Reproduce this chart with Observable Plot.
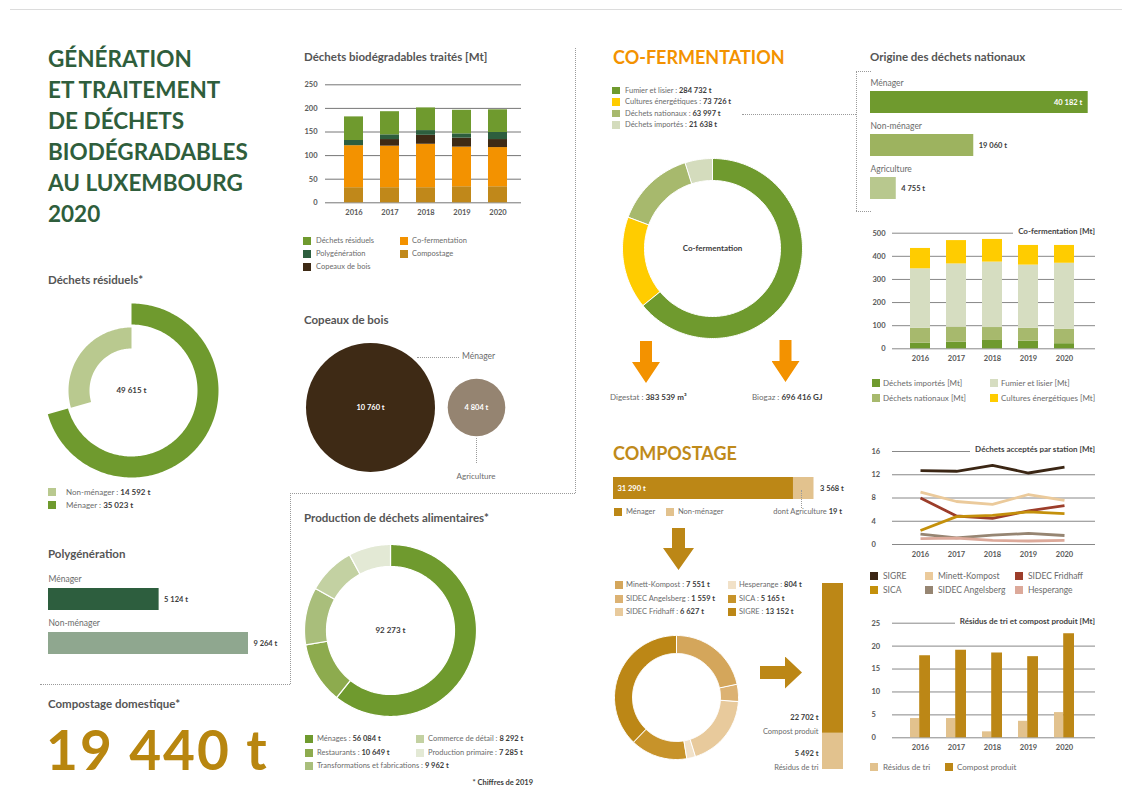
<!DOCTYPE html>
<html lang="fr">
<head>
<meta charset="utf-8">
<script src="https://cdn.jsdelivr.net/npm/d3@7"></script>
<script src="https://cdn.jsdelivr.net/npm/@observablehq/plot@0.6"></script>
<style>
html,body{margin:0;padding:0;background:#fff;}
#page{position:relative;width:1130px;height:800px;overflow:hidden;background:#fff;font-family:Lato,"Open Sans",sans-serif;}
#page svg{position:absolute;overflow:visible;}
.t{position:absolute;white-space:nowrap;}
.t b{color:#3c3c3c;font-weight:700;}
.dh{position:absolute;height:0;border-top:1px dotted #9a9a9a;}
.dv{position:absolute;width:0;border-left:1px dotted #9a9a9a;}
.sw{position:absolute;}
.ar{position:absolute;}
</style>
</head>
<body>
<div id="page"></div>
<script>
// ======================= DATA =======================
const years = ["2016", "2017", "2018", "2019", "2020"];

// Déchets biodégradables traités [Mt] (stack order bottom -> top)
const bioCategories = ["Compostage", "Co-fermentation", "Copeaux de bois", "Polygénération", "Déchets résiduels"];
const bioCompostage = [32, 32, 32, 34, 34];
const bioCoFermentation = [89, 88, 92, 84, 83];
const bioCopeaux = [0, 14, 19, 19, 17];
const bioPolygeneration = [11, 10, 10, 9, 15];
const bioResiduels = [50, 49, 48, 50, 48];
const bioTicks = [0, 50, 100, 150, 200, 250];

// Déchets résiduels*
const residuelsLabels = ["Ménager", "Non-ménager"];
const residuelsValues = [35023, 14592];
const residuelsTotal = 49615;

// Polygénération
const polyLabels = ["Ménager", "Non-ménager"];
const polyValues = [5124, 9264];

// Compostage domestique*
const compostageDomestique = 19440;

// Copeaux de bois
const copeauxLabels = ["Ménager", "Agriculture"];
const copeauxValues = [10760, 4804];

// Production de déchets alimentaires* (chiffres de 2019)
const alimLabels = ["Ménages", "Restaurants", "Transformations et fabrications", "Commerce de détail", "Production primaire"];
const alimValues = [56084, 10649, 9962, 8292, 7285];
const alimTotal = 92273;

// Co-fermentation
const cofermLabels = ["Fumier et lisier", "Cultures énergétiques", "Déchets nationaux", "Déchets importés"];
const cofermValues = [284732, 73726, 63997, 21638];
const digestat = "383 539 m³";
const biogaz = "696 416 GJ";

// Origine des déchets nationaux
const origineLabels = ["Ménager", "Non-ménager", "Agriculture"];
const origineValues = [40182, 19060, 4755];

// Co-fermentation [Mt] (stack order bottom -> top)
const cofSeries = ["Déchets importés [Mt]", "Déchets nationaux [Mt]", "Fumier et lisier [Mt]", "Cultures énergétiques [Mt]"];
const cofImportes = [24, 29, 36, 33, 22];
const cofNationaux = [65, 65, 56, 56, 63];
const cofFumier = [257, 273, 283, 273, 285];
const cofCultures = [88, 101, 98, 85, 77];
const cofTicks = [0, 100, 200, 300, 400, 500];

// Compostage
const compLabels = ["Ménager", "Non-ménager"];
const compValues = [31290, 3568];
const compAgriculture = 19;
const stationLabels = ["Minett-Kompost", "SIDEC Angelsberg", "SIDEC Fridhaff", "Hesperange", "SICA", "SIGRE"];
const stationValues = [7551, 1559, 6627, 804, 5165, 13152];
const produitLabels = ["Résidus de tri", "Compost produit"];
const produitValues = [5492, 22702];

// Déchets acceptés par station [Mt]
const lineStations = ["SIGRE", "Minett-Kompost", "SIDEC Fridhaff", "SICA", "SIDEC Angelsberg", "Hesperange"];
const lineSIGRE = [12.7, 12.6, 13.6, 12.3, 13.3];
const lineMinett = [9.0, 7.4, 6.9, 8.6, 7.6];
const lineFridhaff = [8.0, 4.9, 4.5, 5.8, 6.7];
const lineSICA = [2.4, 4.8, 5.0, 5.6, 5.3];
const lineAngelsberg = [1.8, 1.15, 1.6, 1.9, 1.55];
const lineHesperange = [1.0, 1.1, 0.7, 0.6, 0.7];
const lineTicks = [0, 4, 8, 12, 16];

// Résidus de tri et compost produit [Mt]
const resTri = [4.2, 4.2, 1.3, 3.6, 5.5];
const resCompost = [17.9, 19.1, 18.5, 17.7, 22.7];
const resTicks = [0, 5, 10, 15, 20, 25];

// ======================= STYLE =======================
const FONT = "Lato, 'Open Sans', sans-serif";
const GREEN = "#6f9a2e", DKGREEN = "#2d5e3e", BROWN = "#3e2a15", ORANGE = "#f39200",
      GOLD = "#bc8716", GOLD_L = "#e2c28e", TAUPE = "#958471", YELLOW = "#ffcc00";
const bioColors = ["#c0881a", ORANGE, BROWN, DKGREEN, GREEN];
const alimColors = [GREEN, "#8dab4e", "#a9be7b", "#c3d1a2", "#e3e9d5"];
const cofermColors = [GREEN, YELLOW, "#a7b96d", "#d4dcbd"];
const cofSeriesColors = [GREEN, "#a7b96d", "#d6ddc1", YELLOW];
const origineColors = [GREEN, "#9db35f", "#b8c88e"];
const polyColors = [DKGREEN, "#8fa78f"];
const stationColors = ["#d4a65b", "#dcb273", "#e8ca9c", "#f1e1c8", "#c7932a", GOLD];
const lineColors = ["#3b2614", "#ebca9b", "#9c3d2a", "#c4900b", "#968572", "#dca99a"];
const tick = {fontSize: 7.5, fontWeight: "bold", fill: "#595959"};
const fmt = v => d3.format(",")(v).replace(/,/g, " ");

// ======================= HELPERS =======================
const page = document.getElementById("page");
function txt(x, y, html, o = {}) {
  const s = o.size || 8, lh = o.lh || s * 1.25, lines = o.lines || 1;
  const d = document.createElement("div");
  d.className = "t";
  d.style.fontSize = s + "px";
  d.style.lineHeight = lh + "px";
  d.style.color = o.color || "#6b6b6b";
  d.style.fontWeight = o.weight || 400;
  if (o.ls) d.style.letterSpacing = o.ls;
  if (o.bg) { d.style.background = o.bg; d.style.paddingLeft = "5px"; }
  d.style.top = (y - lines * lh / 2) + "px";
  if (o.anchor === "end") d.style.right = (1130 - x) + "px";
  else if (o.anchor === "middle") { d.style.left = x + "px"; d.style.transform = "translateX(-50%)"; }
  else d.style.left = x + "px";
  d.innerHTML = html;
  page.appendChild(d);
  return d;
}
function swatch(x, y, color, s = 8) {
  const d = document.createElement("div");
  d.className = "sw";
  d.style.cssText += `left:${x}px;top:${y - s / 2}px;width:${s}px;height:${s}px;background:${color};`;
  page.appendChild(d);
}
function item(x, tx, y, color, html, o = {}) {
  swatch(x, y, color, o.sw || 8);
  txt(tx, y, html, {size: o.size || 7.5, color: o.color});
}
function dotH(x1, x2, y) {
  const d = document.createElement("div"); d.className = "dh";
  d.style.cssText += `left:${x1}px;top:${y}px;width:${x2 - x1}px;`; page.appendChild(d);
}
function dotV(x, y1, y2) {
  const d = document.createElement("div"); d.className = "dv";
  d.style.cssText += `left:${x}px;top:${y1}px;height:${y2 - y1}px;`; page.appendChild(d);
}
function arrowDown(cx, top, bottom, headW, shaftW, headH, color) {
  const d = document.createElement("div"); d.className = "ar";
  const w = headW, h = bottom - top, a = (w - shaftW) / 2, b = (w + shaftW) / 2, hs = h - headH;
  d.style.cssText += `left:${cx - w / 2}px;top:${top}px;width:${w}px;height:${h}px;background:${color};` +
    `clip-path:polygon(${a}px 0,${b}px 0,${b}px ${hs}px,${w}px ${hs}px,${w / 2}px ${h}px,0 ${hs}px,${a}px ${hs}px);`;
  page.appendChild(d);
}
function arrowRight(left, right, cy, headH, shaftH, headL, color) {
  const d = document.createElement("div"); d.className = "ar";
  const w = right - left, h = headH, a = (h - shaftH) / 2, b = (h + shaftH) / 2, ws = w - headL;
  d.style.cssText += `left:${left}px;top:${cy - h / 2}px;width:${w}px;height:${h}px;background:${color};` +
    `clip-path:polygon(0 ${a}px,${ws}px ${a}px,${ws}px 0,${w}px ${h / 2}px,${ws}px ${h}px,${ws}px ${b}px,0 ${b}px);`;
  page.appendChild(d);
}
function plotAt(x, y, opts) {
  const svg = Plot.plot({
    ...opts,
    style: {fontFamily: FONT, fontSize: "8px", background: "transparent", color: "#595959", overflow: "visible"}
  });
  svg.style.left = x + "px";
  svg.style.top = y + "px";
  page.appendChild(svg);
  return svg;
}
function arcPoints(a0, a1, r0, r1) {
  const n = Math.max(4, Math.ceil(Math.abs(a1 - a0) / (Math.PI / 150)));
  const pts = [];
  for (let i = 0; i <= n; i++) { const a = a0 + (a1 - a0) * i / n; pts.push({x: r1 * Math.sin(a), y: r1 * Math.cos(a)}); }
  for (let i = n; i >= 0; i--) { const a = a0 + (a1 - a0) * i / n; pts.push({x: r0 * Math.sin(a), y: r0 * Math.cos(a)}); }
  return pts;
}
// donut drawn through Plot scales: each slice polygon from its share of the values
function donut(cx, cy, values, colors, r0, r1, centerText, o = {}) {
  const total = d3.sum(values);
  const ends = d3.cumsum(values).map(v => v / total * 2 * Math.PI);
  const marks = values.map((v, i) => Plot.line(arcPoints(i ? ends[i - 1] : 0, ends[i], r0, r1),
    {x: "x", y: "y", fill: colors[i], stroke: o.stroke || "none", strokeWidth: o.strokeWidth || 0, curve: "linear-closed"}));
  if (centerText) marks.push(Plot.text([centerText], {frameAnchor: "middle", text: d => d, fontWeight: "bold", fontSize: 8, fill: "#3c3c3c"}));
  const P = r1 + 4;
  plotAt(cx - P, cy - P, {width: 2 * P, height: 2 * P, margin: 0,
    x: {domain: [-P, P], axis: null}, y: {domain: [-P, P], axis: null}, marks});
}

// ======================= PAGE FRAME =======================
{ const d = document.createElement("div"); d.style.cssText = "position:absolute;left:10px;top:9px;width:1112px;height:0;border-top:1px solid #dcdcdc;"; page.appendChild(d); }
dotV(575, 48, 493); dotH(290, 575, 493); dotV(290, 493, 684); dotH(40, 290, 684);

// ======================= MAIN TITLE =======================
txt(48, 135.5, "GÉNÉRATION<br>ET TRAITEMENT<br>DE DÉCHETS<br>BIODÉGRADABLES<br>AU LUXEMBOURG<br>2020",
  {size: 22.5, lh: 31, lines: 6, weight: 700, color: "#2f5e3c"});

// ======================= DÉCHETS BIODÉGRADABLES TRAITÉS =======================
txt(304, 57.5, "Déchets biodégradables traités [Mt]", {size: 11.5, weight: 700, color: "#555"});
{
  const series = [bioCompostage, bioCoFermentation, bioCopeaux, bioPolygeneration, bioResiduels];
  const data = bioCategories.flatMap((c, j) => years.map((y, i) => ({year: y, category: c, value: series[j][i]})));
  plotAt(290, 70, {
    width: 240, height: 160, marginLeft: 35, marginRight: 9, marginTop: 14.3, marginBottom: 27.7,
    x: {type: "band", domain: years, range: [36.3, 235.8], padding: 0.466, axis: null},
    y: {domain: [0, 250], axis: null},
    color: {domain: bioCategories, range: bioColors},
    marks: [
      Plot.ruleY(bioTicks, {stroke: "#666", strokeWidth: 0.9}),
      Plot.barY(data, {x: "year", y: "value", fill: "category"}),
      Plot.text(bioTicks, {y: d => d, text: d => String(d), frameAnchor: "left", textAnchor: "end", dx: -8, ...tick}),
      Plot.text(years, {x: d => d, text: d => d, frameAnchor: "bottom", dy: 12, ...tick})
    ]
  });
  const col = c => bioColors[bioCategories.indexOf(c)];
  item(303, 316, 240.5, col("Déchets résiduels"), "Déchets résiduels");
  item(303, 316, 254, col("Polygénération"), "Polygénération");
  item(303, 316, 267, col("Copeaux de bois"), "Copeaux de bois");
  item(400, 412, 240.5, col("Co-fermentation"), "Co-fermentation");
  item(400, 412, 254, col("Compostage"), "Compostage");
}

// ======================= DÉCHETS RÉSIDUELS =======================
txt(48, 280, "Déchets résiduels*", {size: 11.5, weight: 700, color: "#555"});
{
  const total = d3.sum(residuelsValues);
  const split = residuelsValues[0] / total * 2 * Math.PI;
  const marks = [
    Plot.line(arcPoints(0, split, 66, 87), {x: "x", y: "y", fill: GREEN, stroke: "none", curve: "linear-closed"}),
    Plot.line(arcPoints(split, 2 * Math.PI, 42, 63), {x: "x", y: "y", fill: "#b9c98f", stroke: "none", curve: "linear-closed"}),
    Plot.text([fmt(residuelsTotal) + " t"], {frameAnchor: "middle", text: d => d, fontWeight: "bold", fontSize: 8, fill: "#3c3c3c"})
  ];
  plotAt(131 - 91, 390 - 91, {width: 182, height: 182, margin: 0,
    x: {domain: [-91, 91], axis: null}, y: {domain: [-91, 91], axis: null}, marks});
  item(48, 66, 492, "#b9c98f", `${residuelsLabels[1]} : <b>${fmt(residuelsValues[1])} t</b>`, {size: 8});
  item(48, 66, 505, GREEN, `${residuelsLabels[0]} : <b>${fmt(residuelsValues[0])} t</b>`, {size: 8});
}

// ======================= POLYGÉNÉRATION =======================
txt(48, 554, "Polygénération", {size: 11.5, weight: 700, color: "#555"});
{
  const data = polyLabels.map((label, i) => ({label, value: polyValues[i]}));
  plotAt(48, 560, {
    width: 240, height: 120, margin: 0,
    x: {domain: [0, 9264], range: [0, 200], axis: null},
    y: {type: "band", domain: polyLabels, range: [5.6, 116.9], padding: 0.5, axis: null},
    color: {domain: polyLabels, range: polyColors},
    marks: [
      Plot.barX(data, {y: "label", x: "value", fill: "label"}),
      Plot.text(data, {y: "label", x: "value", text: d => fmt(d.value) + " t", dx: 5, textAnchor: "start", fontWeight: "bold", fontSize: 7.5, fill: "#3c3c3c"}),
      Plot.text(data, {y: "label", frameAnchor: "left", text: "label", dy: -20, textAnchor: "start", fontSize: 8.5, fill: "#6b6b6b"})
    ]
  });
}

// ======================= COMPOSTAGE DOMESTIQUE =======================
txt(48, 704, "Compostage domestique*", {size: 11.5, weight: 700, color: "#555"});
txt(46, 749, fmt(compostageDomestique) + " t", {size: 55, lh: 55, weight: 700, color: "#b8860f", ls: "2px"});

// ======================= COPEAUX DE BOIS =======================
txt(304, 320.5, "Copeaux de bois", {size: 11.5, weight: 700, color: "#555"});
{
  const data = copeauxLabels.map((label, i) => ({label, value: copeauxValues[i]}));
  plotAt(290, 327, {
    width: 240, height: 160, margin: 0,
    x: {type: "point", domain: copeauxLabels, range: [79.5, 186], padding: 0, axis: null},
    r: {type: "linear", domain: [0, 10760], range: [0, 64.5]},
    color: {domain: copeauxLabels, range: [BROWN, TAUPE]},
    marks: [
      Plot.dot(data, {x: "label", r: "value", fill: "label", frameAnchor: "middle"}),
      Plot.text(data, {x: "label", text: d => fmt(d.value) + " t", frameAnchor: "middle", fill: "white", fontWeight: "bold", fontSize: 7.5})
    ]
  });
  dotH(417, 459, 357);
  txt(462, 356.5, copeauxLabels[0], {size: 8.5});
  dotV(476, 438, 463);
  txt(476, 476, copeauxLabels[1], {size: 8, anchor: "middle"});
}

// ======================= PRODUCTION DE DÉCHETS ALIMENTAIRES =======================
txt(304, 518, "Production de déchets alimentaires*", {size: 11.5, weight: 700, color: "#555"});
donut(390, 630, alimValues, alimColors, 64, 86, fmt(alimTotal) + " t", {stroke: "white", strokeWidth: 1.2});
item(305, 317, 739, alimColors[0], `${alimLabels[0]} : <b>${fmt(alimValues[0])} t</b>`);
item(305, 317, 752.5, alimColors[1], `${alimLabels[1]} : <b>${fmt(alimValues[1])} t</b>`);
item(305, 317, 766, alimColors[2], `${alimLabels[2]} : <b>${fmt(alimValues[2])} t</b>`);
item(416, 428, 739, alimColors[3], `${alimLabels[3]} : <b>${fmt(alimValues[3])} t</b>`);
item(416, 428, 752.5, alimColors[4], `${alimLabels[4]} : <b>${fmt(alimValues[4])} t</b>`);
txt(533, 783, "* Chiffres de 2019", {size: 7.5, weight: 700, color: "#3c3c3c", anchor: "end"});

// ======================= CO-FERMENTATION =======================
txt(613, 57, "CO-FERMENTATION", {size: 18, weight: 700, color: ORANGE});
{
  const ys = [90.5, 102, 113.5, 125];
  cofermLabels.forEach((l, i) => item(612, 625, ys[i], cofermColors[i], `${l} : <b>${fmt(cofermValues[i])} t</b>`, {sw: 7.5}));
  dotH(742, 856, 114);
  donut(712, 248, cofermValues, cofermColors, 68, 90, "Co-fermentation", {stroke: "white", strokeWidth: 1});
  arrowDown(646, 341, 383, 28, 12, 21, ORANGE);
  arrowDown(785.5, 340, 382, 28, 12, 21, ORANGE);
  txt(610, 397, `Digestat : <b>${digestat}</b>`, {size: 8});
  txt(752, 397, `Biogaz : <b>${biogaz}</b>`, {size: 8});
}

// ======================= ORIGINE DES DÉCHETS NATIONAUX =======================
txt(870, 57, "Origine des déchets nationaux", {size: 11.5, weight: 700, color: "#555"});
dotV(856, 71, 211); dotH(856, 871, 71); dotH(856, 871, 211);
{
  const data = origineLabels.map((label, i) => ({label, value: origineValues[i]}));
  plotAt(870, 60, {
    width: 235, height: 160, margin: 0,
    x: {domain: [0, 40182], range: [0, 217.7], axis: null},
    y: {type: "band", domain: origineLabels, range: [9, 160.4], padding: 0.48, axis: null},
    color: {domain: origineLabels, range: origineColors},
    marks: [
      Plot.barX(data, {y: "label", x: "value", fill: "label"}),
      Plot.text(data.slice(0, 1), {y: "label", x: "value", text: d => fmt(d.value) + " t", dx: -6, textAnchor: "end", fontWeight: "bold", fontSize: 7.5, fill: "white"}),
      Plot.text(data.slice(1), {y: "label", x: "value", text: d => fmt(d.value) + " t", dx: 5, textAnchor: "start", fontWeight: "bold", fontSize: 7.5, fill: "#3c3c3c"}),
      Plot.text(data, {y: "label", frameAnchor: "left", text: "label", dy: -19, textAnchor: "start", fontSize: 8.5, fill: "#6b6b6b"})
    ]
  });
}

// ======================= CO-FERMENTATION [Mt] =======================
{
  const series = [cofImportes, cofNationaux, cofFumier, cofCultures];
  const data = cofSeries.flatMap((s, j) => years.map((y, i) => ({year: y, series: s, value: series[j][i]})));
  plotAt(860, 220, {
    width: 245, height: 150, marginLeft: 32, marginRight: 10, marginTop: 12.7, marginBottom: 21.7,
    x: {type: "band", domain: years, range: [33.1, 231.5], padding: 0.45, axis: null},
    y: {domain: [0, 500], axis: null},
    color: {domain: cofSeries, range: cofSeriesColors},
    marks: [
      Plot.ruleY(cofTicks, {stroke: "#7a7a7a", strokeWidth: 0.9}),
      Plot.barY(data, {x: "year", y: "value", fill: "series"}),
      Plot.text(cofTicks, {y: d => d, text: d => String(d), frameAnchor: "left", textAnchor: "end", dx: -7, ...tick}),
      Plot.text(years, {x: d => d, text: d => d, frameAnchor: "bottom", dy: 12, ...tick})
    ]
  });
  txt(1095, 230.5, "Co-fermentation [Mt]", {size: 8, weight: 700, color: "#444", anchor: "end", bg: "#fff"});
  item(872, 883, 383, cofSeriesColors[0], cofSeries[0], {size: 8});
  item(872, 883, 398, cofSeriesColors[1], cofSeries[1], {size: 8});
  item(990, 1001, 383, cofSeriesColors[2], cofSeries[2], {size: 8});
  item(990, 1001, 398, cofSeriesColors[3], cofSeries[3], {size: 8});
}

// ======================= COMPOSTAGE =======================
txt(613, 453, "COMPOSTAGE", {size: 18, weight: 700, color: "#bf8a1a"});
{
  const data = compLabels.map((label, i) => ({label, value: compValues[i]}));
  const total = d3.sum(compValues);
  plotAt(613, 470, {
    width: 240, height: 36, marginLeft: 0, marginRight: 0, marginTop: 7, marginBottom: 7,
    x: {domain: [0, total], range: [0, 200.5], axis: null},
    color: {domain: compLabels, range: [GOLD, GOLD_L]},
    marks: [
      Plot.barX(data, Plot.stackX({x: "value", fill: "label"})),
      Plot.text(data.slice(0, 1), {frameAnchor: "left", text: d => fmt(d.value) + " t", dx: 4, textAnchor: "start", fill: "white", fontWeight: "bold", fontSize: 7.5}),
      Plot.text(data.slice(1), {x: () => total, text: d => fmt(d.value) + " t", dx: 6, textAnchor: "start", fill: "#3c3c3c", fontWeight: "bold", fontSize: 7.5})
    ]
  });
  dotV(801, 490, 508);
  item(614, 626, 512, GOLD, compLabels[0]);
  item(666, 678, 512, GOLD_L, compLabels[1]);
  txt(842, 512, `dont Agriculture <b>${compAgriculture} t</b>`, {size: 7.5, anchor: "end"});
  arrowDown(678.5, 528, 570, 31, 13, 22, GOLD);

  const rows = [585, 598.5, 612];
  stationLabels.forEach((l, i) => {
    const c = i < 3 ? [615, 626] : [728, 739];
    item(c[0], c[1], rows[i % 3], stationColors[i], `${l} : <b>${fmt(stationValues[i])} t</b>`);
  });
  donut(676, 697, stationValues, stationColors, 44, 62, null, {stroke: "white", strokeWidth: 1});
  arrowRight(760, 802, 672.5, 32, 13, 17, GOLD);

  const starts = [0, ...d3.cumsum(produitValues)].slice(0, produitValues.length);
  const pdata = produitLabels.map((label, i) => ({cat: "Compost", label, value: produitValues[i], start: starts[i]}));
  plotAt(740, 575, {
    width: 110, height: 200, marginLeft: 0, marginRight: 32, marginTop: 8, marginBottom: 6,
    x: {type: "band", domain: ["Compost"], range: [82, 103], padding: 0, axis: null},
    y: {domain: [0, d3.sum(produitValues)], axis: null},
    color: {domain: produitLabels, range: [GOLD_L, GOLD]},
    marks: [
      Plot.barY(pdata, {x: "cat", y: "value", fill: "label"}),
      Plot.text(pdata, {y: "start", frameAnchor: "right", text: "label", textAnchor: "end", dy: -2, fontSize: 7.5, fill: "#6b6b6b"}),
      Plot.text(pdata, {y: "start", frameAnchor: "right", text: d => fmt(d.value) + " t", textAnchor: "end", dy: -16, fontSize: 7.5, fontWeight: "bold", fill: "#3c3c3c"})
    ]
  });
}

// ======================= DÉCHETS ACCEPTÉS PAR STATION =======================
{
  const series = [lineSIGRE, lineMinett, lineFridhaff, lineSICA, lineAngelsberg, lineHesperange];
  const data = lineStations.flatMap((s, j) => years.map((y, i) => ({year: y, station: s, value: series[j][i]})));
  plotAt(860, 440, {
    width: 245, height: 120, marginLeft: 32, marginRight: 10, marginTop: 11, marginBottom: 16,
    x: {type: "point", domain: years, range: [59.5, 205], padding: 0, axis: null},
    y: {domain: [0, 16], axis: null},
    color: {domain: lineStations, range: lineColors},
    marks: [
      Plot.ruleY(lineTicks, {stroke: "#7a7a7a", strokeWidth: 0.9}),
      Plot.line(data, {x: "year", y: "value", z: "station", stroke: "station", strokeWidth: 2.8, strokeLinecap: "butt"}),
      Plot.text(lineTicks, {y: d => d, text: d => String(d), frameAnchor: "left", textAnchor: "start", dx: -21, ...tick}),
      Plot.text(years, {x: d => d, text: d => d, frameAnchor: "bottom", dy: 12.5, ...tick})
    ]
  });
  txt(1095, 449, "Déchets acceptés par station [Mt]", {size: 8, weight: 700, color: "#444", anchor: "end", bg: "#fff"});
  const lx = [[870, 883], [925, 938], [1015, 1028]];
  const order = [0, 2, 4, 1, 3, 5]; // legend grid slot of each station (column-major)
  lineStations.forEach((s, i) => {
    const p = order[i];
    item(lx[Math.floor(p / 2)][0], lx[Math.floor(p / 2)][1], p % 2 ? 590 : 576, lineColors[i], s, {size: 8.5});
  });
}

// ======================= RÉSIDUS DE TRI ET COMPOST PRODUIT =======================
{
  const tri = years.map((y, i) => ({year: y, value: resTri[i]}));
  const comp = years.map((y, i) => ({year: y, value: resCompost[i]}));
  plotAt(860, 610, {
    width: 245, height: 150, marginLeft: 32, marginRight: 10, marginTop: 12.7, marginBottom: 22.7,
    x: {type: "band", domain: years, range: [33.1, 231.5], padding: 0.45, axis: null},
    y: {domain: [0, 25], axis: null},
    marks: [
      Plot.ruleY(resTicks, {stroke: "#7a7a7a", strokeWidth: 0.9}),
      Plot.barY(tri, {x: "year", y: "value", fill: GOLD_L, insetRight: 10.8}),
      Plot.barY(comp, {x: "year", y: "value", fill: GOLD, insetLeft: 9.2}),
      Plot.text(resTicks, {y: d => d, text: d => String(d), frameAnchor: "left", textAnchor: "start", dx: -21, ...tick}),
      Plot.text(years, {x: d => d, text: d => d, frameAnchor: "bottom", dy: 12, ...tick})
    ]
  });
  txt(1095, 621, "Résidus de tri et compost produit [Mt]", {size: 8, weight: 700, color: "#444", anchor: "end", bg: "#fff"});
  item(870, 883, 767, GOLD_L, produitLabels[0], {size: 8});
  item(945, 957, 767, GOLD, produitLabels[1], {size: 8});
}
</script>
</body>
</html>
